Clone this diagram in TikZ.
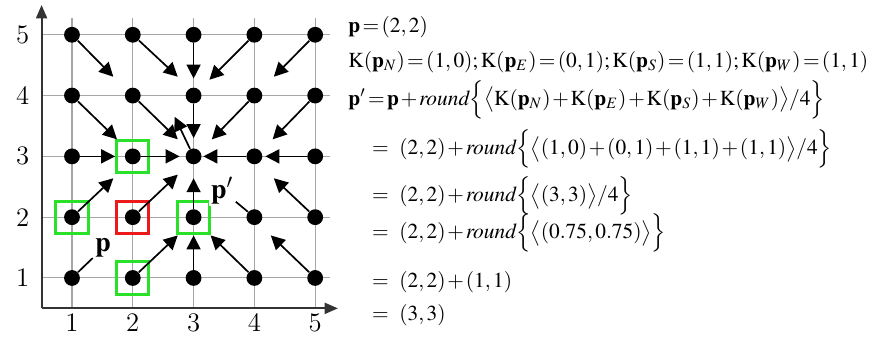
\documentclass[tikz,border=0pt]{standalone}
\usepackage{amsmath}
\usepackage{mathptmx}
\usetikzlibrary{arrows.meta,calc}
\definecolor{boxgreen}{RGB}{40,225,40}
\definecolor{boxred}{RGB}{235,25,25}
\newcommand{\eqtight}{\medmuskip=1.5mu plus 1mu\relax
  \thickmuskip=2mu plus 1mu\relax}
\newcommand{\eqgap}{\mkern7mu}
\tikzset{
  dot/.style    ={circle, fill=black, inner sep=0pt, minimum size=2.6mm},
  vec/.style    ={-{Triangle[length=2.3mm,width=2.3mm]}, line width=0.8pt},
  bare/.style   ={line width=0.8pt},
  gridln/.style ={black!35, line width=0.5pt},
  axis/.style   ={-{Triangle[length=2.2mm,width=1.8mm]}, line width=1pt,
                  black!80},
  nbbox/.style  ={draw=boxgreen, line width=1.4pt, minimum size=5.3mm,
                  inner sep=0pt},
  ctrbox/.style ={draw=boxred, line width=1.4pt, minimum size=5.3mm,
                  inner sep=0pt},
  tick/.style   ={font=\fontsize{12.5}{14}\selectfont},
  ptlbl/.style  ={fill=white, inner sep=1pt, font=\fontsize{13}{15}\selectfont},
  eqn/.style    ={anchor=base west, inner sep=0pt,
                  font=\fontsize{10}{12}\selectfont},
}

\begin{document}
\begin{tikzpicture}
\useasboundingbox (-0.184,-0.02) rectangle (14.109,5.572);
% grid, ticks and axes
\foreach \k in {1,...,5} {
  \draw[gridln] (\k,0.5) -- (\k,5.27);
  \draw[gridln] (0.5,\k) -- (5.24,\k);
  \node[tick] (xt\k) at (\k,0.26) {\k};
  \node[tick] (yt\k) at (0.19,\k) {\k};
}
\coordinate (o) at (0.5,0.5);
\coordinate (xe) at (5.375,0.5);
\coordinate (ye) at (0.5,5.49);
\draw[axis] (o) -- (xe);
\draw[axis] (o) -- (ye);
% neighbour boxes
\node[nbbox] (b23) at (2,3) {};
\node[nbbox] (b12) at (1,2) {};
\node[nbbox] (b32) at (3,2) {};
\node[nbbox] (b21) at (2,1) {};
\node[ctrbox] (b22) at (2,2) {};
% pixels
\foreach \i in {1,...,5}
  \foreach \j in {1,...,5}
    \node[dot] (d\i\j) at (\i,\j) {};
% flow vectors
\foreach \i/\j/\u/\v in {1/5/0.68/-0.69, 2/5/0.74/-0.69, 3/5/0/-0.72,
    4/5/-0.74/-0.74, 5/5/-0.68/-0.69,
    1/4/0.74/-0.72, 2/4/0.74/-0.72, 3/4/0/-0.7,
    4/4/-0.7/-0.72, 5/4/-0.7/-0.72,
    1/3/0.71/0, 2/3/0.77/0, 3/3/-0.31/0.65, 4/3/-0.84/0, 5/3/-0.82/0,
    1/2/0.68/0.64, 2/2/0.74/0.7, 3/2/0/0.64, 5/2/-0.68/0.64,
    2/1/0.74/0.7, 3/1/0/0.7, 4/1/-0.72/0.7, 5/1/-0.73/0.7} {
  \coordinate (t\i\j) at ($(\i,\j)+(\u,\v)$);
  \draw[vec] (d\i\j) -- (t\i\j);
}
% point labels
\node[ptlbl] (lp) at (1.51,1.49) {$\mathbf{p}$};
\node[ptlbl] (lpp) at (3.47,2.44) {$\mathbf{p}'$};
\draw[bare] (d11) -- (lp);
\draw[bare] (d42) -- (lpp);
% derivation
\node[eqn] (e1) at (5.54,5.04) {$\eqtight\mathbf{p}=(2,2)$};
\node[eqn] (e2) at (5.54,4.46)
  {$\eqtight\mathrm{K}(\mathbf{p}_N)=(1,0);\mathrm{K}(\mathbf{p}_E)=(0,1);
    \mathrm{K}(\mathbf{p}_S)=(1,1);\mathrm{K}(\mathbf{p}_W)=(1,1)$};
\node[eqn] (e3) at (5.54,3.84)
  {$\eqtight\mathbf{p}'=\mathbf{p}+\mathit{round}\Bigl\{\bigl\langle
    \mathrm{K}(\mathbf{p}_N)+\mathrm{K}(\mathbf{p}_E)
    +\mathrm{K}(\mathbf{p}_S)+\mathrm{K}(\mathbf{p}_W)
    \bigr\rangle/4\Bigr\}$};
\node[eqn] (e4) at (5.93,3.03)
  {$\eqtight=\eqgap(2,2)+\mathit{round}\Bigl\{\bigl\langle(1,0)
    +(0,1)+(1,1)+(1,1)\bigr\rangle/4\Bigr\}$};
\node[eqn] (e5) at (5.93,2.26)
  {$\eqtight=\eqgap(2,2)+\mathit{round}\Bigl\{\bigl\langle(3,3)\bigr\rangle/4\Bigr\}$};
\node[eqn] (e6) at (5.93,1.65)
  {$\eqtight=\eqgap(2,2)+\mathit{round}\Bigl\{\bigl\langle(0.75,0.75)\bigr\rangle\Bigr\}$};
\node[eqn] (e7) at (5.93,0.84) {$\eqtight=\eqgap(2,2)+(1,1)$};
\node[eqn] (e8) at (5.93,0.30) {$\eqtight=\eqgap(3,3)$};
\end{tikzpicture}
\end{document}
